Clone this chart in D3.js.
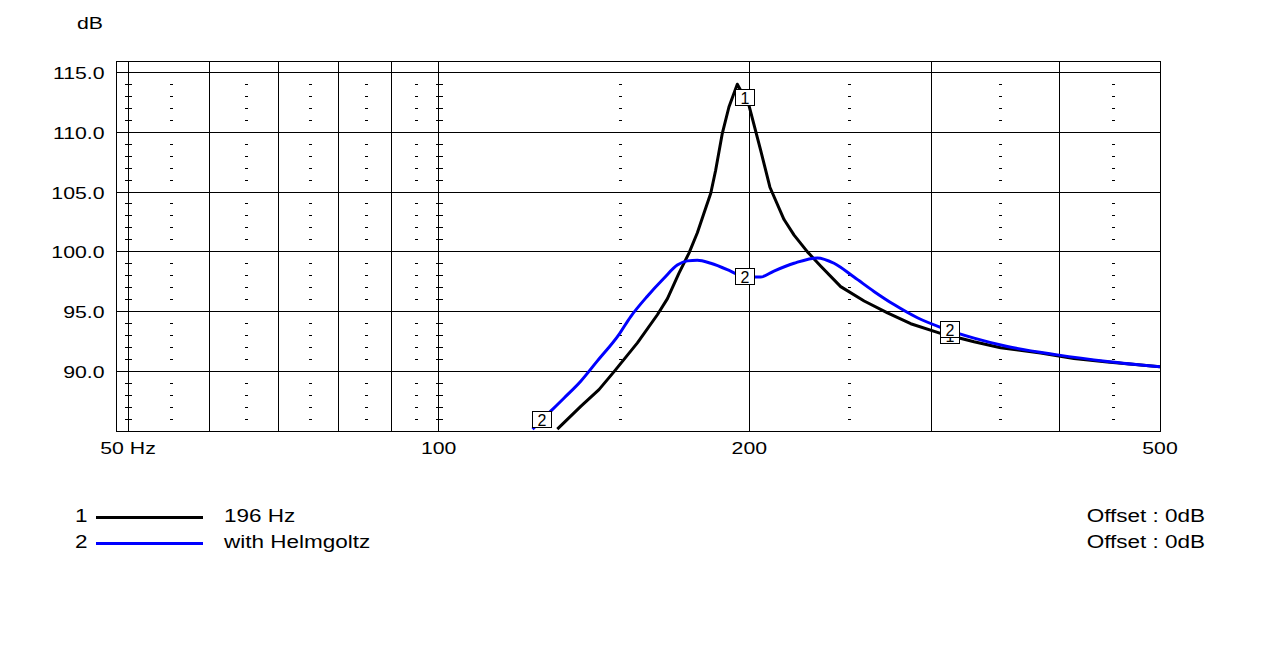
<!DOCTYPE html>
<html>
<head>
<meta charset="utf-8">
<script src="https://cdn.jsdelivr.net/npm/d3@7"></script>
<style>
  body { margin: 0; background: #fff; }
  svg { display: block; }
  text { font-family: "Liberation Sans", Arial, sans-serif; fill: #000; }
  .grid { stroke: #000; stroke-width: 1; shape-rendering: crispEdges; }
</style>
</head>
<body>
<svg width="1276" height="668"></svg>
<script>
// curve 1: 196 Hz
var freq1 = [130.3, 137.3, 143.0, 147.9, 155.8, 162.9, 166.6, 170.9, 174.8, 178.1, 180.7, 183.5, 185.5, 188.3, 191.1, 194.7,
             199.8, 205.1, 209.4, 216.1, 221.0, 227.7, 234.6, 245.2, 258.4, 272.2, 286.7, 306.4, 330.2, 350.4, 383.1, 412.6, 444.6, 500];
var db1 = [85.2, 87.1, 88.5, 90.0, 92.4, 94.75, 96.1, 98.2, 99.9, 101.6, 103.2, 104.9, 106.8, 109.9, 112.1, 114.0,
           112.25, 108.5, 105.4, 102.7, 101.4, 100.0, 98.8, 97.1, 95.9, 94.9, 94.0, 93.2, 92.5, 92.0, 91.55, 91.1, 90.8, 90.4];

// curve 2: with Helmgoltz
var freq2 = [123.3, 128.4, 132.3, 137.3, 142.5, 149.5, 153.5, 159.3, 165.3, 170.3, 174.2, 178.1, 183.5, 191.8, 197.6,
             205.1, 211.3, 221.0, 232.8, 241.6, 252.6, 264.1, 276.2, 291.0, 306.4, 330.2, 355.7, 397.7, 444.6, 500];
var db2 = [85.2, 86.7, 87.8, 89.2, 90.9, 93.1, 94.6, 96.3, 97.8, 98.9, 99.25, 99.3, 99.05, 98.4, 97.9,
           97.9, 98.4, 99.05, 99.5, 99.05, 97.9, 96.7, 95.6, 94.5, 93.7, 92.8, 92.1, 91.4, 90.85, 90.4];

var markers1 = [198, 313],
    markers2 = [126, 198, 313];

var seriesNames = ["196 Hz", "with Helmgoltz"],
    seriesIds = ["1", "2"],
    seriesColors = ["#000000", "#0000ff"],
    offsets = ["Offset : 0dB", "Offset : 0dB"];

var xLabelTicks = [50, 100, 200, 500],
    xLabels = ["50 Hz", "100", "200", "500"],
    xGrid = [50, 60, 70, 80, 90, 100, 200, 300, 400, 500],
    xMinor = [55, 65, 75, 85, 95, 150, 250, 350, 450],
    xCross = [50, 100],
    yTicks = [90, 95, 100, 105, 110, 115];

var svg = d3.select("svg"),
    plotLeft = 116.5, plotRight = 1160, plotTop = 61.5, plotBottom = 431.5,
    stretch = 1.25;

var x = d3.scaleLog().domain([48.73, 500]).range([plotLeft, plotRight]),
    y = d3.scaleLinear().domain([85, 115.9]).range([plotBottom, plotTop]);

function px(v) { return Math.round(v - 0.5) + 0.5; }

function stretched(sel, tx, ty) {
  return sel.attr("transform", "translate(" + tx + "," + ty + ") scale(" + stretch + ",1)");
}

// frame
svg.append("rect")
    .attr("class", "grid")
    .attr("x", px(plotLeft)).attr("y", px(plotTop))
    .attr("width", px(plotRight) - px(plotLeft)).attr("height", px(plotBottom) - px(plotTop))
    .attr("fill", "none");

// grid
svg.selectAll(".vgrid")
  .data(xGrid)
  .enter().append("line")
    .attr("class", "grid")
    .attr("x1", function(d) { return px(x(d)) })
    .attr("x2", function(d) { return px(x(d)) })
    .attr("y1", px(plotTop)).attr("y2", px(plotBottom));

svg.selectAll(".hgrid")
  .data(yTicks)
  .enter().append("line")
    .attr("class", "grid")
    .attr("x1", px(plotLeft)).attr("x2", px(plotRight))
    .attr("y1", function(d) { return px(y(d)) })
    .attr("y2", function(d) { return px(y(d)) });

// minor dB marks: dashes at half positions, crosses on 50 / 100
var minorDb = d3.range(86, 115).filter(function(d) { return d % 5 != 0 });

xMinor.forEach(function(f) {
  svg.append("g").selectAll("line")
    .data(minorDb)
    .enter().append("line")
      .attr("class", "grid")
      .attr("x1", Math.round(x(f)) - 1).attr("x2", Math.round(x(f)) + 2)
      .attr("y1", function(d) { return px(y(d)) })
      .attr("y2", function(d) { return px(y(d)) });
});

xCross.forEach(function(f) {
  svg.append("g").selectAll("line")
    .data(minorDb)
    .enter().append("line")
      .attr("class", "grid")
      .attr("x1", Math.round(x(f)) - 3).attr("x2", Math.round(x(f)) + 4)
      .attr("y1", function(d) { return px(y(d)) })
      .attr("y2", function(d) { return px(y(d)) });
});

// axis labels
svg.selectAll(".ylab")
  .data(yTicks)
  .enter().append("text")
    .attr("text-anchor", "end")
    .style("font-size", "17px")
    .each(function(d) { stretched(d3.select(this), 104.5, y(d) + 6.5) })
    .text(function(d) { return d3.format(".1f")(d) });

svg.selectAll(".xlab")
  .data(xLabelTicks)
  .enter().append("text")
    .attr("text-anchor", "middle")
    .style("font-size", "17px")
    .each(function(d) { stretched(d3.select(this), x(d), 454) })
    .text(function(d, i) { return xLabels[i] });

stretched(svg.append("text")
    .attr("text-anchor", "middle")
    .style("font-size", "17px")
    .text("dB"), 90, 29);

// curves
svg.append("defs").append("clipPath")
    .attr("id", "clip")
  .append("rect")
    .attr("x", plotLeft).attr("y", plotTop)
    .attr("width", plotRight - plotLeft).attr("height", plotBottom - plotTop);

function makeLine(fs) {
  return d3.line()
    .x(function(d, i) { return x(fs[i]) })
    .y(function(d) { return y(d) });
}

function valueAt(fs, ds, f) {
  var i = d3.bisectLeft(fs, f);
  if (i <= 0) return ds[0];
  if (i >= fs.length) return ds[ds.length - 1];
  var t = (Math.log(f) - Math.log(fs[i - 1])) / (Math.log(fs[i]) - Math.log(fs[i - 1]));
  return ds[i - 1] + t * (ds[i] - ds[i - 1]);
}

function drawMarkers(fs, ds, list, label) {
  var g = svg.append("g").selectAll("g")
    .data(list)
    .enter().append("g")
      .attr("transform", function(f) {
        return "translate(" + Math.round(x(f)) + "," + Math.round(y(valueAt(fs, ds, f))) + ")";
      });
  g.append("rect")
    .attr("x", -9.5).attr("y", -8.5)
    .attr("width", 19).attr("height", 16)
    .attr("fill", "#fff").attr("stroke", "#000").attr("stroke-width", 1);
  g.append("text")
    .attr("text-anchor", "middle")
    .attr("y", 6)
    .style("font-size", "16px")
    .text(label);
}

svg.append("path")
    .attr("clip-path", "url(#clip)")
    .attr("fill", "none")
    .attr("stroke", seriesColors[0])
    .attr("stroke-width", 3)
    .attr("stroke-linejoin", "round")
    .attr("d", makeLine(freq1)(db1));

drawMarkers(freq1, db1, markers1, seriesIds[0]);

svg.append("path")
    .attr("clip-path", "url(#clip)")
    .attr("fill", "none")
    .attr("stroke", seriesColors[1])
    .attr("stroke-width", 3)
    .attr("stroke-linejoin", "round")
    .attr("d", makeLine(freq2).curve(d3.curveMonotoneX)(db2));

drawMarkers(freq2, db2, markers2, seriesIds[1]);

// legend
var rowY = [522, 548];
seriesNames.forEach(function(name, i) {
  stretched(svg.append("text").style("font-size", "18px").text(seriesIds[i]), 75, rowY[i]);
  svg.append("line")
    .attr("x1", 96).attr("x2", 203)
    .attr("y1", rowY[i] - 4.5).attr("y2", rowY[i] - 4.5)
    .attr("stroke", seriesColors[i])
    .attr("stroke-width", 3);
  stretched(svg.append("text").style("font-size", "18px").text(name), 224, rowY[i]);
  stretched(svg.append("text").attr("text-anchor", "end").style("font-size", "18px").text(offsets[i]), 1205, rowY[i]);
});
</script>
</body>
</html>
